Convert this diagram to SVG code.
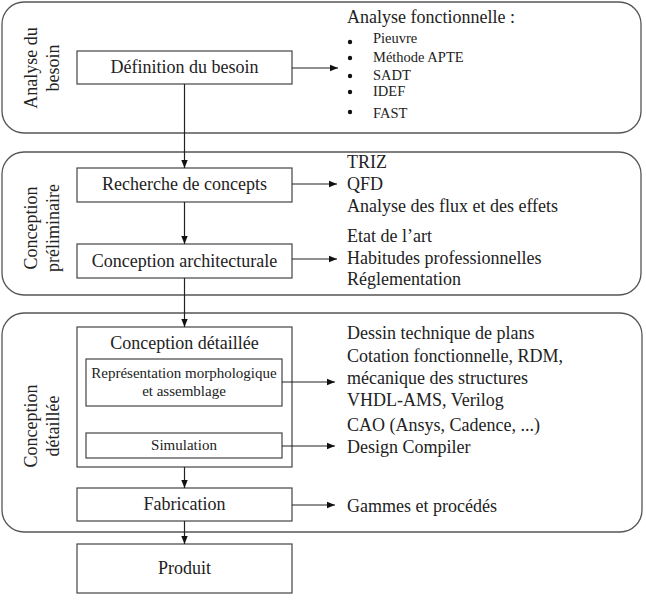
<svg xmlns="http://www.w3.org/2000/svg" width="646" height="602" viewBox="0 0 646 602">
<defs>
<marker id="ah" viewBox="0 0 10 10" refX="10" refY="5" markerWidth="8" markerHeight="8" markerUnits="userSpaceOnUse" orient="auto">
<path d="M0,1 L10,5 L0,9 Z" fill="#111"/>
</marker>
<style>
.panel{fill:none;stroke:#555;stroke-width:1.3}
.box{fill:#fff;stroke:#444;stroke-width:1.2}
.t{font-family:"Liberation Serif","Times New Roman",serif;fill:#222}
.c{text-anchor:middle}
.f18{font-size:18px}
.f15{font-size:15px}
.f14{font-size:14.5px}
.conn{stroke:#222;stroke-width:1.2;fill:none;marker-end:url(#ah)}
</style>
</defs>
<rect width="646" height="602" fill="#fff"/>

<g id="panel-analyse">
<rect class="panel" x="2" y="2" width="639" height="131" rx="22" ry="22"/>
<text class="t f18 c" transform="translate(37,68) rotate(-90)">Analyse du</text>
<text class="t f18 c" transform="translate(59,68) rotate(-90)">besoin</text>
</g>
<g id="panel-preliminaire">
<rect class="panel" x="2" y="152" width="639" height="143" rx="22" ry="22"/>
<text class="t f18 c" transform="translate(37,228) rotate(-90)">Conception</text>
<text class="t f18 c" transform="translate(59,228) rotate(-90)">préliminaire</text>
</g>
<g id="panel-detaillee">
<rect class="panel" x="2" y="313" width="640" height="219" rx="22" ry="22"/>
<text class="t f18 c" transform="translate(37,426) rotate(-90)">Conception</text>
<text class="t f18 c" transform="translate(59,426) rotate(-90)">détaillée</text>
</g>

<g id="definition">
<rect class="box" x="77" y="51" width="215" height="33"/>
<text class="t f18 c" x="184.5" y="73">Définition du besoin</text>
</g>
<g id="recherche">
<rect class="box" x="77" y="168" width="215" height="34"/>
<text class="t f18 c" x="184.5" y="190">Recherche de concepts</text>
</g>
<g id="architecturale">
<rect class="box" x="77" y="244" width="215" height="34"/>
<text class="t f18 c" x="184.5" y="267">Conception architecturale</text>
</g>
<g id="conception-detaillee">
<rect class="box" x="77" y="327" width="215" height="140"/>
<text class="t f18 c" x="184.5" y="349">Conception détaillée</text>
</g>
<g id="representation">
<rect class="box" x="86" y="359" width="196" height="47"/>
<text class="t f15 c" x="184" y="378">Représentation morphologique</text>
<text class="t f15 c" x="184" y="396">et assemblage</text>
</g>
<g id="simulation">
<rect class="box" x="86" y="433" width="196" height="25"/>
<text class="t f15 c" x="184" y="450">Simulation</text>
</g>
<g id="fabrication">
<rect class="box" x="77" y="488" width="215" height="33"/>
<text class="t f18 c" x="184.5" y="510">Fabrication</text>
</g>
<g id="produit">
<rect class="box" x="77" y="544" width="215" height="49"/>
<text class="t f18 c" x="184.5" y="574">Produit</text>
</g>

<g id="outils-analyse">
<text class="t f18" x="347" y="23">Analyse fonctionnelle :</text>
<g fill="#111">
<circle cx="350" cy="42" r="2.2"/>
<circle cx="350" cy="58" r="2.2"/>
<circle cx="350" cy="76" r="2.2"/>
<circle cx="350" cy="92" r="2.2"/>
<circle cx="350" cy="112" r="2.2"/>
</g>
<text class="t f14" x="373" y="43">Pieuvre</text>
<text class="t f14" x="373" y="62">Méthode APTE</text>
<text class="t f14" x="373" y="80">SADT</text>
<text class="t f14" x="373" y="96">IDEF</text>
<text class="t f14" x="373" y="118">FAST</text>
</g>
<g id="outils-concepts">
<text class="t f18" x="347" y="168">TRIZ</text>
<text class="t f18" x="347" y="190">QFD</text>
<text class="t f18" x="347" y="212">Analyse des flux et des effets</text>
</g>
<g id="outils-architecture">
<text class="t f18" x="347" y="242">Etat de l’art</text>
<text class="t f18" x="347" y="264">Habitudes professionnelles</text>
<text class="t f18" x="347" y="285">Réglementation</text>
</g>
<g id="outils-representation">
<text class="t f18" x="347" y="339">Dessin technique de plans</text>
<text class="t f18" x="347" y="362">Cotation fonctionnelle, RDM,</text>
<text class="t f18" x="347" y="384">mécanique des structures</text>
<text class="t f18" x="347" y="406">VHDL-AMS, Verilog</text>
</g>
<g id="outils-simulation">
<text class="t f18" x="347" y="431">CAO (Ansys, Cadence, ...)</text>
<text class="t f18" x="347" y="453">Design Compiler</text>
</g>
<g id="outils-fabrication">
<text class="t f18" x="347" y="512">Gammes et procédés</text>
</g>

<g id="connectors">
<line class="conn" x1="184.5" y1="84" x2="184.5" y2="168"/>
<line class="conn" x1="184.5" y1="202" x2="184.5" y2="244"/>
<line class="conn" x1="184.5" y1="278" x2="184.5" y2="327"/>
<line class="conn" x1="184.5" y1="467" x2="184.5" y2="488"/>
<line class="conn" x1="184.5" y1="521" x2="184.5" y2="544"/>
<line class="conn" x1="292" y1="68" x2="338" y2="68"/>
<line class="conn" x1="292" y1="184" x2="337" y2="184"/>
<line class="conn" x1="292" y1="259" x2="337" y2="259"/>
<line class="conn" x1="282" y1="382" x2="335" y2="382"/>
<line class="conn" x1="282" y1="446" x2="335" y2="446"/>
<line class="conn" x1="292" y1="505" x2="335" y2="505"/>
</g>
</svg>
